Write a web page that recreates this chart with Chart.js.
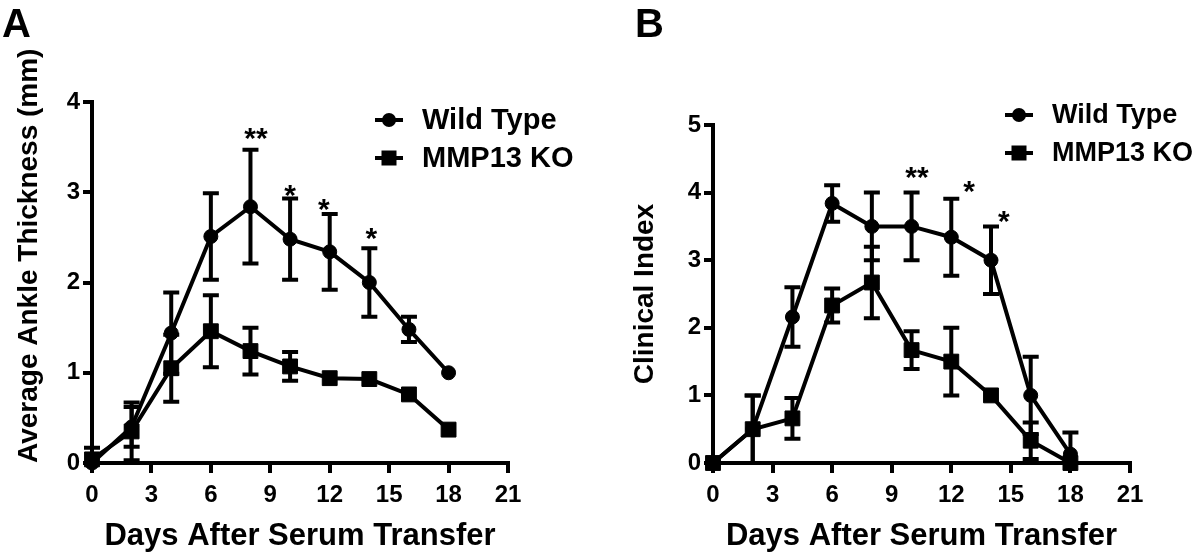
<!DOCTYPE html>
<html><head><meta charset="utf-8">
<script src="https://cdn.jsdelivr.net/npm/chart.js@4/dist/chart.umd.min.js"></script>
<style>
html,body{margin:0;padding:0;background:#fff;}
#wrap{position:relative;width:1200px;height:555px;overflow:hidden;}
.c{position:absolute;top:0;width:600px;height:555px;}
</style></head><body>
<div id="wrap">
<div class="c" style="left:0"><canvas id="ca" width="600" height="555"></canvas></div>
<div class="c" style="left:600px"><canvas id="cb" width="600" height="555"></canvas></div>
</div>
<script>
// ---------- data ----------
const days = [0, 2, 4, 6, 8, 10, 12, 14, 16, 18];
const xTicks = [0, 3, 6, 9, 12, 15, 18, 21];
const yTicksA = [0, 1, 2, 3, 4];
const yTicksB = [0, 1, 2, 3, 4, 5];
const seriesNames = ['Wild Type', 'MMP13 KO'];

// Panel A: Average Ankle Thickness (mm)
const wtAnkle    = [0.00, 0.40, 1.44, 2.51, 2.84, 2.48, 2.34, 2.00, 1.48, 1.00];
const wtAnkleErr = [0.00, 0.22, 0.45, 0.48, 0.63, 0.45, 0.42, 0.38, 0.14, 0.00];
const koAnkle    = [0.04, 0.35, 1.05, 1.46, 1.24, 1.07, 0.94, 0.93, 0.76, 0.37];
const koAnkleErr = [0.13, 0.32, 0.37, 0.40, 0.26, 0.16, 0.00, 0.00, 0.00, 0.00];

// Panel B: Clinical Index
const wtClin    = [0.00, 0.50, 2.16, 3.84, 3.50, 3.50, 3.34, 3.00, 1.00, 0.13];
const wtClinErr = [0.00, 0.50, 0.44, 0.27, 0.50, 0.50, 0.57, 0.50, 0.57, 0.32];
const koClin    = [0.00, 0.50, 0.66, 2.33, 2.67, 1.67, 1.50, 1.00, 0.33, 0.00];
const koClinErr = [0.00, 0.50, 0.30, 0.25, 0.53, 0.28, 0.50, 0.00, 0.27, 0.00];

// significance marks (day, value, label)
const starDaysA = [8.28, 10.0, 11.7, 14.1];
const starValsA = [3.67, 3.04, 2.88, 2.56];
const starTextA = ['**', '*', '*', '*'];
const starDaysB = [10.27, 12.9, 14.65];
const starValsB = [4.32, 4.11, 3.67];
const starTextB = ['**', '*', '*'];

// ---------- rendering ----------
const FONT = "'Liberation Sans', Arial, Helvetica, sans-serif";
Chart.defaults.font.family = FONT;
Chart.defaults.color = '#000';

const pts = arr => days.map((d, i) => ({x: d, y: arr[i]}));

const errorBars = {
  id: 'errorBars',
  afterDatasetsDraw(chart) {
    const {ctx} = chart, xs = chart.scales.x, ys = chart.scales.y;
    ctx.save();
    ctx.strokeStyle = '#000'; ctx.lineWidth = 4; ctx.lineCap = 'butt';
    chart.data.datasets.forEach(ds => {
      ds.data.forEach((p, i) => {
        const e = ds.errors[i];
        if (!e) return;
        const px = xs.getPixelForValue(p.x);
        const yt = ys.getPixelForValue(p.y + e);
        const yb = ys.getPixelForValue(Math.max(0, p.y - e));
        ctx.beginPath();
        ctx.moveTo(px, yt); ctx.lineTo(px, yb);
        ctx.moveTo(px - 8, yt); ctx.lineTo(px + 8, yt);
        ctx.moveTo(px - 8, yb); ctx.lineTo(px + 8, yb);
        ctx.stroke();
      });
    });
    ctx.restore();
  }
};

const deco = {
  id: 'deco',
  afterDraw(chart, args, o) {
    const {ctx} = chart, xs = chart.scales.x, ys = chart.scales.y;
    ctx.save();
    ctx.fillStyle = '#000'; ctx.strokeStyle = '#000';
    // panel letter
    ctx.font = 'bold 40px ' + FONT;
    ctx.textAlign = 'left'; ctx.textBaseline = 'alphabetic';
    ctx.fillText(o.letter, o.letterX, 37);
    // stars
    ctx.font = 'bold 30px ' + FONT;
    ctx.textAlign = 'center';
    o.starX.forEach((d, i) => {
      ctx.fillText(o.starT[i], xs.getPixelForValue(d), ys.getPixelForValue(o.starY[i]) + 16);
    });
    // legend
    ctx.font = 'bold ' + o.legendSize + 'px ' + FONT;
    ctx.textBaseline = 'middle'; ctx.textAlign = 'left';
    seriesNames.forEach((name, i) => {
      const y = o.rows[i], cx = o.markX;
      ctx.lineWidth = 4;
      ctx.beginPath(); ctx.moveTo(cx - 14, y); ctx.lineTo(cx + 14, y); ctx.stroke();
      if (i === 0) { ctx.beginPath(); ctx.arc(cx, y, 7, 0, Math.PI * 2); ctx.fill(); }
      else { ctx.fillRect(cx - 7.5, y - 7.5, 15, 15); }
      ctx.fillText(name, o.textX, y + 1);
    });
    ctx.restore();
  }
};

function makeChart(id, wt, wtE, ko, koE, yTicks, yMax, yTitle, cfg) {
  return new Chart(document.getElementById(id), {
    type: 'line',
    data: {
      datasets: [
        {label: seriesNames[0], data: pts(wt), errors: wtE, borderColor: '#000', backgroundColor: '#000',
         borderWidth: 4, pointStyle: 'circle', pointRadius: 7, pointBorderWidth: 1, clip: false, tension: 0},
        {label: seriesNames[1], data: pts(ko), errors: koE, borderColor: '#000', backgroundColor: '#000',
         borderWidth: 4, pointStyle: 'rect', pointRadius: 10.5, pointBorderWidth: 1, clip: false, tension: 0}
      ]
    },
    options: {
      responsive: false, animation: false,
      layout: {padding: {left: 0, top: cfg.top, right: cfg.right, bottom: 0}},
      plugins: {legend: {display: false}, tooltip: {enabled: false}, deco: cfg.deco},
      scales: {
        x: {
          type: 'linear', min: 0, max: 21,
          afterBuildTicks: s => { s.ticks = xTicks.map(v => ({value: v})); },
          afterFit: s => { s.height = 92; },
          border: {display: true, color: '#000', width: 4},
          grid: {drawOnChartArea: false, drawTicks: true, tickLength: 10, color: '#000', lineWidth: 4},
          ticks: {font: {size: 24, weight: 'bold'}, padding: 8, color: '#000', maxRotation: 0},
          title: {display: true, text: 'Days After Serum Transfer', font: {size: 31, weight: 'bold'},
                  color: '#000', padding: {top: 0, bottom: 0}}
        },
        y: {
          type: 'linear', min: 0, max: yMax,
          afterBuildTicks: s => { s.ticks = yTicks.map(v => ({value: v})); },
          afterFit: s => { s.width = cfg.yWidth; },
          border: {display: true, color: '#000', width: 4},
          grid: {drawOnChartArea: false, drawTicks: true, tickLength: 9, color: '#000', lineWidth: 4},
          ticks: {font: {size: 24, weight: 'bold'}, padding: 3, color: '#000'},
          title: {display: true, text: yTitle, font: {size: 28, weight: 'bold'}, color: '#000',
                  align: cfg.titleAlign, padding: {top: cfg.titlePad, bottom: 0}}
        }
      }
    },
    plugins: [errorBars, deco]
  });
}

makeChart('ca', wtAnkle, wtAnkleErr, koAnkle, koAnkleErr, yTicksA, 4, 'Average Ankle Thickness (mm)', {
  top: 102, right: 92, yWidth: 92, titlePad: 12, titleAlign: 'start',
  deco: {letter: 'A', letterX: 2, markX: 389, textX: 422, rows: [120, 158], legendSize: 29,
         starX: starDaysA, starY: starValsA, starT: starTextA}
});
makeChart('cb', wtClin, wtClinErr, koClin, koClinErr, yTicksB, 5, 'Clinical Index', {
  top: 125, right: 70, yWidth: 113, titlePad: 28, titleAlign: 'center',
  deco: {letter: 'B', letterX: 35, markX: 419, textX: 452, rows: [115, 153], legendSize: 27,
         starX: starDaysB, starY: starValsB, starT: starTextB}
});
</script>
</body></html>
